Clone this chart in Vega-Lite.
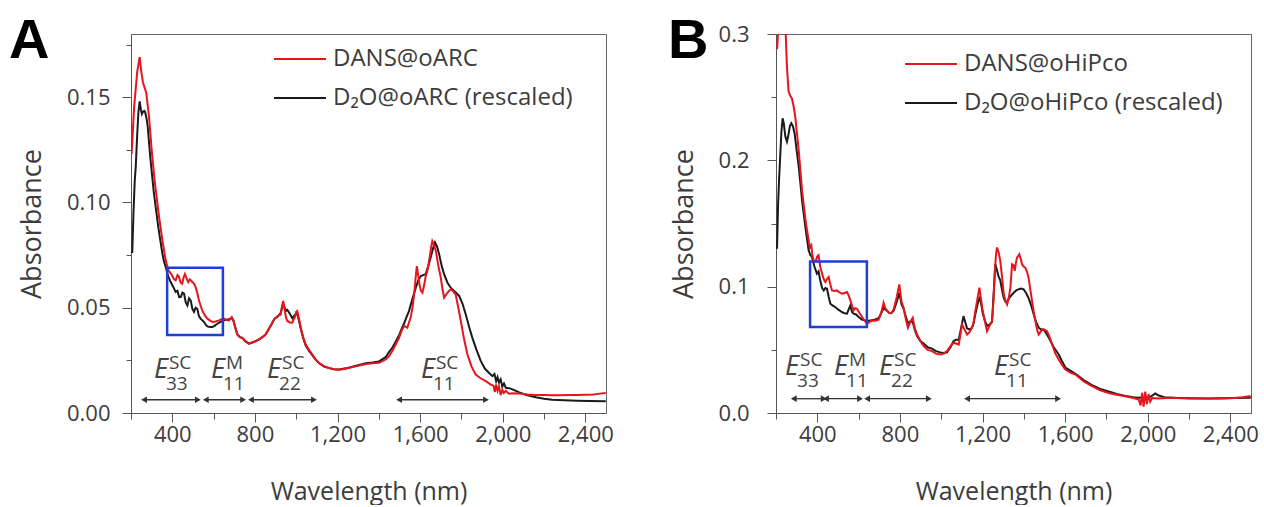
{
  "$schema": "https://vega.github.io/schema/vega-lite/v6.json",
  "background": "white",
  "padding": {"left": 8, "top": 12, "right": 0, "bottom": 0},
  "spacing": 53,
  "config": {
    "font": "Open Sans",
    "view": {"stroke": "#666", "strokeWidth": 1},
    "axis": {
      "grid": false, "domainColor": "#555", "tickColor": "#555", "labelColor": "#3c3c3c", "titleColor": "#3c3c3c",
      "labelFontSize": 22, "titleFontSize": 27, "titleFontWeight": "normal", "labelFont": "Open Sans", "titleFont": "Open Sans"
    },
    "axisX": {"titleFontSize": 25},
    "legend": {"labelFontSize": 24, "labelColor": "#3c3c3c", "labelFont": "Open Sans", "labelLimit": 0, "symbolType": "M-1,0H1", "symbolSize": 2700, "symbolStrokeWidth": 2, "labelOffset": 6, "rowPadding": -10, "title": null}
  },
  "datasets": {
    "a_red": [
      {"wavelength":203,"absorbance":0.123},{"wavelength":215,"absorbance":0.145},{"wavelength":230,"absorbance":0.162},{"wavelength":242,"absorbance":0.169},{"wavelength":250,"absorbance":0.162},{"wavelength":258,"absorbance":0.157},{"wavelength":274,"absorbance":0.152},{"wavelength":287,"absorbance":0.141},{"wavelength":300,"absorbance":0.125},{"wavelength":316,"absorbance":0.109},{"wavelength":336,"absorbance":0.093},{"wavelength":352,"absorbance":0.082},{"wavelength":368,"absorbance":0.0725},{"wavelength":381,"absorbance":0.0678},{"wavelength":395,"absorbance":0.066},{"wavelength":408,"absorbance":0.0635},{"wavelength":416,"absorbance":0.063},{"wavelength":425,"absorbance":0.0655},{"wavelength":432,"absorbance":0.0648},{"wavelength":440,"absorbance":0.062},{"wavelength":448,"absorbance":0.0614},{"wavelength":455,"absorbance":0.0645},{"wavelength":461,"absorbance":0.066},{"wavelength":469,"absorbance":0.064},{"wavelength":477,"absorbance":0.0622},{"wavelength":485,"absorbance":0.0635},{"wavelength":497,"absorbance":0.0622},{"wavelength":505,"absorbance":0.0615},{"wavelength":513,"absorbance":0.0598},{"wavelength":521,"absorbance":0.057},{"wavelength":529,"absorbance":0.0535},{"wavelength":537,"absorbance":0.051},{"wavelength":545,"absorbance":0.0487},{"wavelength":557,"absorbance":0.0465},{"wavelength":570,"absorbance":0.0448},{"wavelength":582,"absorbance":0.044},{"wavelength":594,"absorbance":0.0432},{"wavelength":610,"absorbance":0.0435},{"wavelength":626,"absorbance":0.044},{"wavelength":638,"absorbance":0.0445},{"wavelength":650,"absorbance":0.0448},{"wavelength":662,"absorbance":0.0442},{"wavelength":675,"absorbance":0.044},{"wavelength":688,"absorbance":0.0456},{"wavelength":696,"absorbance":0.044},{"wavelength":704,"absorbance":0.041},{"wavelength":715,"absorbance":0.0373},{"wavelength":727,"absorbance":0.036},{"wavelength":739,"absorbance":0.0357},{"wavelength":755,"absorbance":0.034},{"wavelength":771,"absorbance":0.0329},{"wavelength":787,"absorbance":0.0335},{"wavelength":804,"absorbance":0.0341},{"wavelength":820,"absorbance":0.035},{"wavelength":836,"absorbance":0.036},{"wavelength":852,"absorbance":0.0373},{"wavelength":865,"absorbance":0.0395},{"wavelength":880,"absorbance":0.042},{"wavelength":893,"absorbance":0.0445},{"wavelength":901,"absorbance":0.0452},{"wavelength":912,"absorbance":0.0462},{"wavelength":925,"absorbance":0.0468},{"wavelength":932,"absorbance":0.051},{"wavelength":937,"absorbance":0.0532},{"wavelength":944,"absorbance":0.049},{"wavelength":950,"absorbance":0.0455},{"wavelength":957,"absorbance":0.0437},{"wavelength":970,"absorbance":0.043},{"wavelength":981,"absorbance":0.0429},{"wavelength":993,"absorbance":0.0455},{"wavelength":1000,"absorbance":0.048},{"wavelength":1005,"absorbance":0.0484},{"wavelength":1013,"absorbance":0.045},{"wavelength":1022,"absorbance":0.0405},{"wavelength":1034,"absorbance":0.036},{"wavelength":1046,"absorbance":0.0325},{"wavelength":1062,"absorbance":0.03},{"wavelength":1078,"absorbance":0.0278},{"wavelength":1094,"absorbance":0.0255},{"wavelength":1110,"absorbance":0.0238},{"wavelength":1135,"absorbance":0.0222},{"wavelength":1159,"absorbance":0.0214},{"wavelength":1183,"absorbance":0.0208},{"wavelength":1207,"absorbance":0.0206},{"wavelength":1240,"absorbance":0.021},{"wavelength":1272,"absorbance":0.0218},{"wavelength":1305,"absorbance":0.0225},{"wavelength":1337,"absorbance":0.0233},{"wavelength":1370,"absorbance":0.0236},{"wavelength":1401,"absorbance":0.0238},{"wavelength":1433,"absorbance":0.0254},{"wavelength":1450,"absorbance":0.027},{"wavelength":1465,"absorbance":0.0294},{"wavelength":1482,"absorbance":0.0325},{"wavelength":1498,"absorbance":0.0357},{"wavelength":1510,"absorbance":0.039},{"wavelength":1522,"absorbance":0.0413},{"wavelength":1530,"absorbance":0.041},{"wavelength":1538,"absorbance":0.0405},{"wavelength":1546,"absorbance":0.043},{"wavelength":1554,"absorbance":0.0452},{"wavelength":1563,"absorbance":0.05},{"wavelength":1571,"absorbance":0.0563},{"wavelength":1578,"absorbance":0.064},{"wavelength":1584,"absorbance":0.0698},{"wavelength":1591,"absorbance":0.065},{"wavelength":1598,"absorbance":0.0603},{"wavelength":1604,"absorbance":0.058},{"wavelength":1611,"absorbance":0.0571},{"wavelength":1620,"absorbance":0.061},{"wavelength":1627,"absorbance":0.065},{"wavelength":1635,"absorbance":0.0675},{"wavelength":1645,"absorbance":0.073},{"wavelength":1652,"absorbance":0.078},{"wavelength":1659,"absorbance":0.0817},{"wavelength":1667,"absorbance":0.08},{"wavelength":1676,"absorbance":0.077},{"wavelength":1688,"absorbance":0.07},{"wavelength":1700,"absorbance":0.0643},{"wavelength":1708,"absorbance":0.059},{"wavelength":1716,"absorbance":0.0548},{"wavelength":1724,"absorbance":0.056},{"wavelength":1732,"absorbance":0.0571},{"wavelength":1740,"absorbance":0.058},{"wavelength":1748,"absorbance":0.0587},{"wavelength":1760,"absorbance":0.0578},{"wavelength":1772,"absorbance":0.0563},{"wavelength":1785,"absorbance":0.05},{"wavelength":1797,"absorbance":0.0437},{"wavelength":1813,"absorbance":0.035},{"wavelength":1829,"absorbance":0.0278},{"wavelength":1849,"absorbance":0.022},{"wavelength":1869,"absorbance":0.0183},{"wavelength":1893,"absorbance":0.0165},{"wavelength":1918,"absorbance":0.0151},{"wavelength":1942,"absorbance":0.0135},{"wavelength":1955,"absorbance":0.013},{"wavelength":1962,"absorbance":0.01},{"wavelength":1968,"absorbance":0.0135},{"wavelength":1975,"absorbance":0.0105},{"wavelength":1982,"absorbance":0.0125},{"wavelength":1990,"absorbance":0.0085},{"wavelength":1998,"absorbance":0.011},{"wavelength":2005,"absorbance":0.0095},{"wavelength":2015,"absorbance":0.0105},{"wavelength":2030,"absorbance":0.0092},{"wavelength":2050,"absorbance":0.0094},{"wavelength":2079,"absorbance":0.0093},{"wavelength":2120,"absorbance":0.0088},{"wavelength":2160,"absorbance":0.0086},{"wavelength":2200,"absorbance":0.0085},{"wavelength":2240,"absorbance":0.0084},{"wavelength":2280,"absorbance":0.0084},{"wavelength":2320,"absorbance":0.0085},{"wavelength":2360,"absorbance":0.0086},{"wavelength":2402,"absorbance":0.0087},{"wavelength":2440,"absorbance":0.0088},{"wavelength":2470,"absorbance":0.0092},{"wavelength":2499,"absorbance":0.0095}
    ],
    "a_black": [
      {"wavelength":206,"absorbance":0.076},{"wavelength":212,"absorbance":0.095},{"wavelength":218,"absorbance":0.11},{"wavelength":223,"absorbance":0.117},{"wavelength":230,"absorbance":0.132},{"wavelength":236,"absorbance":0.143},{"wavelength":242,"absorbance":0.148},{"wavelength":248,"absorbance":0.144},{"wavelength":253,"absorbance":0.142},{"wavelength":258,"absorbance":0.143},{"wavelength":264,"absorbance":0.1435},{"wavelength":268,"absorbance":0.1432},{"wavelength":275,"absorbance":0.14},{"wavelength":281,"absorbance":0.136},{"wavelength":287,"absorbance":0.129},{"wavelength":293,"absorbance":0.1218},{"wavelength":302,"absorbance":0.113},{"wavelength":311,"absorbance":0.1043},{"wavelength":322,"absorbance":0.096},{"wavelength":332,"absorbance":0.0884},{"wavelength":342,"absorbance":0.082},{"wavelength":352,"absorbance":0.0757},{"wavelength":360,"absorbance":0.072},{"wavelength":368,"absorbance":0.0694},{"wavelength":380,"absorbance":0.065},{"wavelength":392,"absorbance":0.0622},{"wavelength":404,"absorbance":0.06},{"wavelength":416,"absorbance":0.0575},{"wavelength":425,"absorbance":0.058},{"wavelength":433,"absorbance":0.055},{"wavelength":441,"absorbance":0.0551},{"wavelength":449,"absorbance":0.0572},{"wavelength":457,"absorbance":0.0567},{"wavelength":465,"absorbance":0.0525},{"wavelength":473,"absorbance":0.0511},{"wavelength":481,"absorbance":0.0545},{"wavelength":489,"absorbance":0.0535},{"wavelength":497,"absorbance":0.0495},{"wavelength":505,"absorbance":0.048},{"wavelength":513,"absorbance":0.05},{"wavelength":521,"absorbance":0.0495},{"wavelength":529,"absorbance":0.046},{"wavelength":537,"absorbance":0.0448},{"wavelength":545,"absorbance":0.044},{"wavelength":554,"absorbance":0.0432},{"wavelength":562,"absorbance":0.042},{"wavelength":570,"absorbance":0.0411},{"wavelength":582,"absorbance":0.0408},{"wavelength":594,"absorbance":0.0408},{"wavelength":606,"absorbance":0.0415},{"wavelength":618,"absorbance":0.0424},{"wavelength":634,"absorbance":0.0433},{"wavelength":650,"absorbance":0.044},{"wavelength":662,"absorbance":0.0443},{"wavelength":675,"absorbance":0.0445},{"wavelength":688,"absorbance":0.0452},{"wavelength":696,"absorbance":0.0438},{"wavelength":704,"absorbance":0.041},{"wavelength":715,"absorbance":0.0373},{"wavelength":727,"absorbance":0.036},{"wavelength":739,"absorbance":0.0357},{"wavelength":755,"absorbance":0.034},{"wavelength":771,"absorbance":0.0329},{"wavelength":787,"absorbance":0.0335},{"wavelength":804,"absorbance":0.0341},{"wavelength":820,"absorbance":0.035},{"wavelength":836,"absorbance":0.036},{"wavelength":852,"absorbance":0.0373},{"wavelength":865,"absorbance":0.0395},{"wavelength":880,"absorbance":0.042},{"wavelength":893,"absorbance":0.0445},{"wavelength":901,"absorbance":0.0452},{"wavelength":912,"absorbance":0.046},{"wavelength":925,"absorbance":0.0475},{"wavelength":932,"absorbance":0.0505},{"wavelength":937,"absorbance":0.052},{"wavelength":944,"absorbance":0.05},{"wavelength":950,"absorbance":0.0485},{"wavelength":957,"absorbance":0.049},{"wavelength":970,"absorbance":0.047},{"wavelength":981,"absorbance":0.045},{"wavelength":993,"absorbance":0.0465},{"wavelength":1000,"absorbance":0.047},{"wavelength":1005,"absorbance":0.047},{"wavelength":1013,"absorbance":0.044},{"wavelength":1022,"absorbance":0.04},{"wavelength":1034,"absorbance":0.0355},{"wavelength":1046,"absorbance":0.032},{"wavelength":1062,"absorbance":0.0295},{"wavelength":1078,"absorbance":0.0275},{"wavelength":1094,"absorbance":0.0253},{"wavelength":1110,"absorbance":0.0237},{"wavelength":1135,"absorbance":0.022},{"wavelength":1159,"absorbance":0.0213},{"wavelength":1183,"absorbance":0.0208},{"wavelength":1207,"absorbance":0.0207},{"wavelength":1240,"absorbance":0.0212},{"wavelength":1272,"absorbance":0.022},{"wavelength":1305,"absorbance":0.0228},{"wavelength":1337,"absorbance":0.0236},{"wavelength":1370,"absorbance":0.024},{"wavelength":1401,"absorbance":0.0245},{"wavelength":1433,"absorbance":0.0265},{"wavelength":1450,"absorbance":0.029},{"wavelength":1465,"absorbance":0.031},{"wavelength":1482,"absorbance":0.034},{"wavelength":1498,"absorbance":0.037},{"wavelength":1510,"absorbance":0.0398},{"wavelength":1522,"absorbance":0.0425},{"wavelength":1534,"absorbance":0.0455},{"wavelength":1546,"absorbance":0.0484},{"wavelength":1562,"absorbance":0.054},{"wavelength":1579,"absorbance":0.0595},{"wavelength":1591,"absorbance":0.063},{"wavelength":1603,"absorbance":0.065},{"wavelength":1615,"absorbance":0.0655},{"wavelength":1627,"absorbance":0.0659},{"wavelength":1640,"absorbance":0.07},{"wavelength":1651,"absorbance":0.0738},{"wavelength":1662,"absorbance":0.078},{"wavelength":1672,"absorbance":0.081},{"wavelength":1682,"absorbance":0.079},{"wavelength":1692,"absorbance":0.0754},{"wavelength":1704,"absorbance":0.07},{"wavelength":1716,"absorbance":0.0659},{"wavelength":1732,"absorbance":0.062},{"wavelength":1748,"absorbance":0.0595},{"wavelength":1770,"absorbance":0.0575},{"wavelength":1789,"absorbance":0.0556},{"wavelength":1805,"absorbance":0.052},{"wavelength":1821,"absorbance":0.0468},{"wavelength":1837,"absorbance":0.041},{"wavelength":1853,"absorbance":0.0357},{"wavelength":1873,"absorbance":0.03},{"wavelength":1894,"absorbance":0.0246},{"wavelength":1914,"absorbance":0.021},{"wavelength":1934,"absorbance":0.019},{"wavelength":1950,"absorbance":0.0175},{"wavelength":1960,"absorbance":0.0185},{"wavelength":1968,"absorbance":0.015},{"wavelength":1975,"absorbance":0.017},{"wavelength":1982,"absorbance":0.0145},{"wavelength":1990,"absorbance":0.016},{"wavelength":1998,"absorbance":0.0125},{"wavelength":2006,"absorbance":0.014},{"wavelength":2015,"absorbance":0.012},{"wavelength":2030,"absorbance":0.0118},{"wavelength":2047,"absorbance":0.0112},{"wavelength":2080,"absorbance":0.0098},{"wavelength":2111,"absorbance":0.0087},{"wavelength":2160,"absorbance":0.0075},{"wavelength":2200,"absorbance":0.0068},{"wavelength":2240,"absorbance":0.0063},{"wavelength":2300,"absorbance":0.006},{"wavelength":2360,"absorbance":0.0058},{"wavelength":2420,"absorbance":0.0057},{"wavelength":2499,"absorbance":0.0056}
    ],
    "b_red": [
      {"wavelength":205,"absorbance":0.288},{"wavelength":208,"absorbance":0.295},{"wavelength":213,"absorbance":0.32},{"wavelength":230,"absorbance":0.34},{"wavelength":242,"absorbance":0.32},{"wavelength":247,"absorbance":0.3},{"wavelength":253,"absorbance":0.274},{"wavelength":261,"absorbance":0.2545},{"wavelength":269,"absorbance":0.251},{"wavelength":277,"absorbance":0.249},{"wavelength":285,"absorbance":0.243},{"wavelength":293,"absorbance":0.2347},{"wavelength":301,"absorbance":0.222},{"wavelength":310,"absorbance":0.208},{"wavelength":318,"absorbance":0.192},{"wavelength":326,"absorbance":0.1764},{"wavelength":334,"absorbance":0.165},{"wavelength":342,"absorbance":0.154},{"wavelength":350,"absorbance":0.145},{"wavelength":358,"absorbance":0.1368},{"wavelength":364,"absorbance":0.131},{"wavelength":371,"absorbance":0.1328},{"wavelength":376,"absorbance":0.125},{"wavelength":382,"absorbance":0.1209},{"wavelength":392,"absorbance":0.12},{"wavelength":400,"absorbance":0.124},{"wavelength":406,"absorbance":0.1249},{"wavelength":414,"absorbance":0.116},{"wavelength":423,"absorbance":0.1103},{"wavelength":431,"absorbance":0.106},{"wavelength":439,"absorbance":0.1037},{"wavelength":447,"absorbance":0.106},{"wavelength":455,"absorbance":0.1077},{"wavelength":463,"absorbance":0.102},{"wavelength":471,"absorbance":0.097},{"wavelength":483,"absorbance":0.0965},{"wavelength":495,"absorbance":0.097},{"wavelength":507,"absorbance":0.0955},{"wavelength":520,"absorbance":0.0944},{"wavelength":532,"absorbance":0.095},{"wavelength":544,"absorbance":0.0958},{"wavelength":552,"absorbance":0.093},{"wavelength":560,"absorbance":0.0891},{"wavelength":568,"absorbance":0.085},{"wavelength":576,"absorbance":0.0812},{"wavelength":584,"absorbance":0.083},{"wavelength":592,"absorbance":0.0825},{"wavelength":605,"absorbance":0.079},{"wavelength":617,"absorbance":0.076},{"wavelength":629,"absorbance":0.073},{"wavelength":641,"absorbance":0.0706},{"wavelength":653,"absorbance":0.072},{"wavelength":665,"absorbance":0.0733},{"wavelength":681,"absorbance":0.073},{"wavelength":697,"absorbance":0.0738},{"wavelength":709,"absorbance":0.079},{"wavelength":721,"absorbance":0.0873},{"wavelength":729,"absorbance":0.083},{"wavelength":737,"absorbance":0.0812},{"wavelength":746,"absorbance":0.0794},{"wavelength":758,"absorbance":0.079},{"wavelength":770,"absorbance":0.082},{"wavelength":785,"absorbance":0.092},{"wavelength":797,"absorbance":0.1018},{"wavelength":808,"absorbance":0.088},{"wavelength":818,"absorbance":0.0833},{"wavelength":829,"absorbance":0.074},{"wavelength":839,"absorbance":0.0675},{"wavelength":850,"absorbance":0.072},{"wavelength":862,"absorbance":0.0754},{"wavelength":872,"absorbance":0.067},{"wavelength":883,"absorbance":0.0621},{"wavelength":899,"absorbance":0.057},{"wavelength":915,"absorbance":0.0529},{"wavelength":935,"absorbance":0.05},{"wavelength":955,"absorbance":0.049},{"wavelength":975,"absorbance":0.047},{"wavelength":996,"absorbance":0.0463},{"wavelength":1012,"absorbance":0.047},{"wavelength":1028,"absorbance":0.049},{"wavelength":1045,"absorbance":0.053},{"wavelength":1060,"absorbance":0.0556},{"wavelength":1072,"absorbance":0.055},{"wavelength":1085,"absorbance":0.0542},{"wavelength":1093,"absorbance":0.062},{"wavelength":1101,"absorbance":0.0701},{"wavelength":1113,"absorbance":0.066},{"wavelength":1125,"absorbance":0.0621},{"wavelength":1137,"absorbance":0.064},{"wavelength":1149,"absorbance":0.0675},{"wavelength":1157,"absorbance":0.072},{"wavelength":1165,"absorbance":0.0807},{"wavelength":1175,"absorbance":0.09},{"wavelength":1185,"absorbance":0.0992},{"wavelength":1193,"absorbance":0.09},{"wavelength":1201,"absorbance":0.0807},{"wavelength":1212,"absorbance":0.072},{"wavelength":1222,"absorbance":0.0648},{"wavelength":1234,"absorbance":0.069},{"wavelength":1246,"absorbance":0.0728},{"wavelength":1253,"absorbance":0.088},{"wavelength":1259,"absorbance":0.1098},{"wavelength":1265,"absorbance":0.125},{"wavelength":1270,"absorbance":0.131},{"wavelength":1278,"absorbance":0.127},{"wavelength":1286,"absorbance":0.1204},{"wavelength":1295,"absorbance":0.107},{"wavelength":1303,"absorbance":0.0939},{"wavelength":1311,"absorbance":0.089},{"wavelength":1319,"absorbance":0.086},{"wavelength":1327,"absorbance":0.091},{"wavelength":1335,"absorbance":0.0992},{"wavelength":1343,"absorbance":0.1177},{"wavelength":1350,"absorbance":0.117},{"wavelength":1356,"absorbance":0.1125},{"wavelength":1362,"absorbance":0.119},{"wavelength":1367,"absorbance":0.123},{"wavelength":1378,"absorbance":0.1256},{"wavelength":1385,"absorbance":0.122},{"wavelength":1391,"absorbance":0.1177},{"wavelength":1399,"absorbance":0.116},{"wavelength":1407,"absorbance":0.1151},{"wavelength":1415,"absorbance":0.112},{"wavelength":1423,"absorbance":0.1071},{"wavelength":1431,"absorbance":0.098},{"wavelength":1440,"absorbance":0.0886},{"wavelength":1448,"absorbance":0.08},{"wavelength":1456,"absorbance":0.0728},{"wavelength":1464,"absorbance":0.066},{"wavelength":1472,"absorbance":0.0621},{"wavelength":1480,"absorbance":0.064},{"wavelength":1488,"absorbance":0.0661},{"wavelength":1500,"absorbance":0.066},{"wavelength":1512,"absorbance":0.0648},{"wavelength":1525,"absorbance":0.06},{"wavelength":1537,"absorbance":0.0542},{"wavelength":1553,"absorbance":0.047},{"wavelength":1569,"absorbance":0.0423},{"wavelength":1585,"absorbance":0.038},{"wavelength":1601,"absorbance":0.0344},{"wavelength":1625,"absorbance":0.032},{"wavelength":1650,"absorbance":0.0304},{"wavelength":1690,"absorbance":0.025},{"wavelength":1730,"absorbance":0.0212},{"wavelength":1770,"absorbance":0.018},{"wavelength":1811,"absorbance":0.0159},{"wavelength":1850,"absorbance":0.0145},{"wavelength":1892,"absorbance":0.0132},{"wavelength":1930,"absorbance":0.0118},{"wavelength":1957,"absorbance":0.0106},{"wavelength":1965,"absorbance":0.006},{"wavelength":1973,"absorbance":0.016},{"wavelength":1980,"absorbance":0.005},{"wavelength":1988,"absorbance":0.017},{"wavelength":1996,"absorbance":0.007},{"wavelength":2004,"absorbance":0.015},{"wavelength":2012,"absorbance":0.009},{"wavelength":2021,"absorbance":0.0119},{"wavelength":2050,"absorbance":0.0115},{"wavelength":2090,"absorbance":0.0118},{"wavelength":2134,"absorbance":0.0119},{"wavelength":2200,"absorbance":0.0115},{"wavelength":2296,"absorbance":0.0114},{"wavelength":2360,"absorbance":0.0115},{"wavelength":2420,"absorbance":0.0118},{"wavelength":2460,"absorbance":0.0125},{"wavelength":2489,"absorbance":0.0132},{"wavelength":2499,"absorbance":0.013}
    ],
    "b_black": [
      {"wavelength":205,"absorbance":0.13},{"wavelength":210,"absorbance":0.165},{"wavelength":215,"absorbance":0.185},{"wavelength":221,"absorbance":0.205},{"wavelength":226,"absorbance":0.222},{"wavelength":232,"absorbance":0.2333},{"wavelength":238,"absorbance":0.229},{"wavelength":245,"absorbance":0.219},{"wavelength":253,"absorbance":0.2148},{"wavelength":260,"absorbance":0.22},{"wavelength":267,"absorbance":0.227},{"wavelength":274,"absorbance":0.2294},{"wavelength":282,"absorbance":0.227},{"wavelength":290,"absorbance":0.2214},{"wavelength":300,"absorbance":0.208},{"wavelength":310,"absorbance":0.195},{"wavelength":318,"absorbance":0.182},{"wavelength":326,"absorbance":0.1685},{"wavelength":334,"absorbance":0.158},{"wavelength":342,"absorbance":0.1474},{"wavelength":350,"absorbance":0.138},{"wavelength":358,"absorbance":0.1288},{"wavelength":366,"absorbance":0.125},{"wavelength":374,"absorbance":0.1236},{"wavelength":386,"absorbance":0.116},{"wavelength":398,"absorbance":0.1103},{"wavelength":406,"absorbance":0.112},{"wavelength":414,"absorbance":0.105},{"wavelength":423,"absorbance":0.099},{"wavelength":431,"absorbance":0.097},{"wavelength":439,"absorbance":0.099},{"wavelength":447,"absorbance":0.0984},{"wavelength":455,"absorbance":0.092},{"wavelength":463,"absorbance":0.0865},{"wavelength":475,"absorbance":0.085},{"wavelength":487,"absorbance":0.0839},{"wavelength":500,"absorbance":0.082},{"wavelength":520,"absorbance":0.0799},{"wavelength":532,"absorbance":0.079},{"wavelength":544,"absorbance":0.0786},{"wavelength":552,"absorbance":0.082},{"wavelength":560,"absorbance":0.0852},{"wavelength":568,"absorbance":0.08},{"wavelength":576,"absorbance":0.0786},{"wavelength":588,"absorbance":0.078},{"wavelength":600,"absorbance":0.076},{"wavelength":616,"absorbance":0.074},{"wavelength":632,"absorbance":0.0733},{"wavelength":648,"absorbance":0.073},{"wavelength":665,"absorbance":0.0735},{"wavelength":681,"absorbance":0.074},{"wavelength":697,"absorbance":0.075},{"wavelength":709,"absorbance":0.079},{"wavelength":721,"absorbance":0.083},{"wavelength":729,"absorbance":0.082},{"wavelength":737,"absorbance":0.081},{"wavelength":746,"absorbance":0.0794},{"wavelength":758,"absorbance":0.079},{"wavelength":770,"absorbance":0.081},{"wavelength":785,"absorbance":0.088},{"wavelength":797,"absorbance":0.0952},{"wavelength":808,"absorbance":0.086},{"wavelength":818,"absorbance":0.0825},{"wavelength":829,"absorbance":0.076},{"wavelength":839,"absorbance":0.071},{"wavelength":850,"absorbance":0.0725},{"wavelength":862,"absorbance":0.072},{"wavelength":872,"absorbance":0.066},{"wavelength":883,"absorbance":0.061},{"wavelength":899,"absorbance":0.057},{"wavelength":915,"absorbance":0.055},{"wavelength":935,"absorbance":0.052},{"wavelength":955,"absorbance":0.051},{"wavelength":975,"absorbance":0.049},{"wavelength":996,"absorbance":0.048},{"wavelength":1012,"absorbance":0.0475},{"wavelength":1028,"absorbance":0.048},{"wavelength":1045,"absorbance":0.052},{"wavelength":1060,"absorbance":0.057},{"wavelength":1072,"absorbance":0.058},{"wavelength":1085,"absorbance":0.058},{"wavelength":1097,"absorbance":0.068},{"wavelength":1108,"absorbance":0.0767},{"wavelength":1116,"absorbance":0.072},{"wavelength":1125,"absorbance":0.067},{"wavelength":1137,"absorbance":0.066},{"wavelength":1149,"absorbance":0.0675},{"wavelength":1157,"absorbance":0.071},{"wavelength":1165,"absorbance":0.078},{"wavelength":1176,"absorbance":0.086},{"wavelength":1187,"absorbance":0.092},{"wavelength":1194,"absorbance":0.086},{"wavelength":1201,"absorbance":0.079},{"wavelength":1212,"absorbance":0.073},{"wavelength":1222,"absorbance":0.069},{"wavelength":1234,"absorbance":0.07},{"wavelength":1246,"absorbance":0.072},{"wavelength":1254,"absorbance":0.095},{"wavelength":1262,"absorbance":0.1177},{"wavelength":1270,"absorbance":0.113},{"wavelength":1278,"absorbance":0.108},{"wavelength":1286,"absorbance":0.105},{"wavelength":1295,"absorbance":0.097},{"wavelength":1303,"absorbance":0.091},{"wavelength":1311,"absorbance":0.088},{"wavelength":1319,"absorbance":0.088},{"wavelength":1327,"absorbance":0.0905},{"wavelength":1339,"absorbance":0.093},{"wavelength":1351,"absorbance":0.0952},{"wavelength":1363,"absorbance":0.097},{"wavelength":1376,"absorbance":0.098},{"wavelength":1387,"absorbance":0.0985},{"wavelength":1399,"absorbance":0.0979},{"wavelength":1411,"absorbance":0.095},{"wavelength":1423,"absorbance":0.091},{"wavelength":1436,"absorbance":0.085},{"wavelength":1448,"absorbance":0.078},{"wavelength":1460,"absorbance":0.072},{"wavelength":1472,"absorbance":0.0675},{"wavelength":1484,"absorbance":0.066},{"wavelength":1496,"absorbance":0.0661},{"wavelength":1509,"absorbance":0.063},{"wavelength":1521,"absorbance":0.0595},{"wavelength":1545,"absorbance":0.052},{"wavelength":1569,"absorbance":0.0463},{"wavelength":1585,"absorbance":0.041},{"wavelength":1601,"absorbance":0.036},{"wavelength":1625,"absorbance":0.0335},{"wavelength":1650,"absorbance":0.031},{"wavelength":1690,"absorbance":0.026},{"wavelength":1730,"absorbance":0.022},{"wavelength":1770,"absorbance":0.019},{"wavelength":1811,"absorbance":0.017},{"wavelength":1850,"absorbance":0.015},{"wavelength":1892,"absorbance":0.0135},{"wavelength":1930,"absorbance":0.0125},{"wavelength":1957,"absorbance":0.012},{"wavelength":1990,"absorbance":0.0125},{"wavelength":2015,"absorbance":0.013},{"wavelength":2037,"absorbance":0.0155},{"wavelength":2050,"absorbance":0.014},{"wavelength":2080,"absorbance":0.0125},{"wavelength":2134,"absorbance":0.012},{"wavelength":2200,"absorbance":0.0117},{"wavelength":2296,"absorbance":0.0115},{"wavelength":2360,"absorbance":0.0116},{"wavelength":2420,"absorbance":0.0118},{"wavelength":2489,"absorbance":0.012},{"wavelength":2499,"absorbance":0.012}
    ],
    "a_box": [{"left": 375, "right": 645, "bottom": 0.037, "top": 0.069}],
    "b_box": [{"left": 365, "right": 640, "bottom": 0.068, "top": 0.12}],
    "a_arrows": [
      {"start": 263, "end": 524, "level": 0.0063},
      {"start": 562, "end": 743, "level": 0.0063},
      {"start": 781, "end": 1086, "level": 0.0063},
      {"start": 1498, "end": 1919, "level": 0.0063}
    ],
    "b_arrows": [
      {"start": 286, "end": 431, "level": 0.0113},
      {"start": 442, "end": 607, "level": 0.0113},
      {"start": 641, "end": 940, "level": 0.0113},
      {"start": 1125, "end": 1566, "level": 0.0113}
    ],
    "a_labels": [
      {"position": 311, "level": 0.0167, "main": "E", "sup": "SC", "sub": "33"},
      {"position": 587, "level": 0.0167, "main": "E", "sup": "M", "sub": "11"},
      {"position": 859, "level": 0.0167, "main": "E", "sup": "SC", "sub": "22"},
      {"position": 1604, "level": 0.0167, "main": "E", "sup": "SC", "sub": "11"}
    ],
    "b_labels": [
      {"position": 244, "level": 0.0302, "main": "E", "sup": "SC", "sub": "33"},
      {"position": 481, "level": 0.0302, "main": "E", "sup": "M", "sub": "11"},
      {"position": 699, "level": 0.0302, "main": "E", "sup": "SC", "sub": "22"},
      {"position": 1256, "level": 0.0302, "main": "E", "sup": "SC", "sub": "11"}
    ]
  },
  "resolve": {"scale": {"x": "independent", "y": "independent", "color": "independent"}, "legend": {"color": "independent"}},
  "hconcat": [
    {
      "width": 475, "height": 379,
      "title": {"text": "A", "anchor": "start", "frame": "group", "fontSize": 56, "fontWeight": "bold", "font": "Liberation Sans", "color": "black", "dx": -122, "dy": 38, "offset": 0},
      "layer": [
        {"data": {"name": "a_black"}, "mark": {"type": "line", "strokeWidth": 2, "clip": true},
         "encoding": {
           "x": {"field": "wavelength", "type": "quantitative", "title": "Wavelength (nm)", "scale": {"domain": [200, 2500], "nice": false, "zero": false},
             "axis": {"values": [200,400,600,800,1000,1200,1400,1600,1800,2000,2200,2400], "labelExpr": "datum.value % 400 == 0 ? format(datum.value, ',') : ''", "tickSize": {"condition": {"test": "datum.value % 400 == 0", "value": 9}, "value": 6}, "labelPadding": 2, "titlePadding": 34}},
           "y": {"field": "absorbance", "type": "quantitative", "title": "Absorbance", "scale": {"domain": [0, 0.18], "nice": false},
             "axis": {"values": [0,0.025,0.05,0.075,0.1,0.125,0.15,0.175], "labelExpr": "round(datum.value*1000) % 50 == 0 ? format(datum.value, '.2f') : ''", "tickSize": {"condition": {"test": "round(datum.value*1000) % 50 == 0", "value": 9}, "value": 5}, "labelPadding": 12, "titlePadding": 20}},
           "color": {"datum": "D₂O@oARC (rescaled)", "type": "nominal", "scale": {"domain": ["DANS@oARC", "D₂O@oARC (rescaled)"], "range": ["#e8141c", "#1a1a1a"]},
             "legend": {"orient": "none", "legendX": 142, "legendY": -2}}
         }},
        {"data": {"name": "a_red"}, "mark": {"type": "line", "strokeWidth": 2, "clip": true},
         "encoding": {"x": {"field": "wavelength", "type": "quantitative"}, "y": {"field": "absorbance", "type": "quantitative"}, "color": {"datum": "DANS@oARC", "type": "nominal"}}},
        {"data": {"name": "a_box"}, "mark": {"type": "rect", "filled": false, "stroke": "#1d3fd6", "strokeWidth": 2.5},
         "encoding": {"x": {"field": "left", "type": "quantitative"}, "x2": {"field": "right"}, "y": {"field": "bottom", "type": "quantitative"}, "y2": {"field": "top"}}},
        {"data": {"name": "a_arrows"}, "mark": {"type": "rule", "color": "#333", "strokeWidth": 1.3},
         "encoding": {"x": {"field": "start", "type": "quantitative"}, "x2": {"field": "end"}, "y": {"field": "level", "type": "quantitative"}}},
        {"data": {"name": "a_arrows"}, "mark": {"type": "point", "shape": "triangle-left", "filled": true, "size": 45, "color": "#333", "opacity": 1},
         "encoding": {"x": {"field": "start", "type": "quantitative"}, "y": {"field": "level", "type": "quantitative"}}},
        {"data": {"name": "a_arrows"}, "mark": {"type": "point", "shape": "triangle-right", "filled": true, "size": 45, "color": "#333", "opacity": 1},
         "encoding": {"x": {"field": "end", "type": "quantitative"}, "y": {"field": "level", "type": "quantitative"}}},
        {"data": {"name": "a_labels"}, "mark": {"type": "text", "fontStyle": "italic", "fontSize": 27, "align": "left", "baseline": "alphabetic", "color": "#444", "font": "Open Sans"},
         "encoding": {"x": {"field": "position", "type": "quantitative"}, "y": {"field": "level", "type": "quantitative"}, "text": {"field": "main"}}},
        {"data": {"name": "a_labels"}, "mark": {"type": "text", "fontSize": 19, "align": "left", "baseline": "alphabetic", "color": "#444", "dx": 15, "dy": -9, "font": "Open Sans"},
         "encoding": {"x": {"field": "position", "type": "quantitative"}, "y": {"field": "level", "type": "quantitative"}, "text": {"field": "sup"}}},
        {"data": {"name": "a_labels"}, "mark": {"type": "text", "fontSize": 19, "align": "left", "baseline": "alphabetic", "color": "#444", "dx": 12, "dy": 12, "font": "Open Sans"},
         "encoding": {"x": {"field": "position", "type": "quantitative"}, "y": {"field": "level", "type": "quantitative"}, "text": {"field": "sub"}}}
      ]
    },
    {
      "width": 475, "height": 379,
      "title": {"text": "B", "anchor": "start", "frame": "group", "fontSize": 56, "fontWeight": "bold", "font": "Liberation Sans", "color": "black", "dx": -108, "dy": 47, "offset": 0},
      "layer": [
        {"data": {"name": "b_black"}, "mark": {"type": "line", "strokeWidth": 2, "clip": true},
         "encoding": {
           "x": {"field": "wavelength", "type": "quantitative", "title": "Wavelength (nm)", "scale": {"domain": [200, 2500], "nice": false, "zero": false},
             "axis": {"values": [200,400,600,800,1000,1200,1400,1600,1800,2000,2200,2400], "labelExpr": "datum.value % 400 == 0 ? format(datum.value, ',') : ''", "tickSize": {"condition": {"test": "datum.value % 400 == 0", "value": 9}, "value": 6}, "labelPadding": 2, "titlePadding": 34}},
           "y": {"field": "absorbance", "type": "quantitative", "title": "Absorbance", "scale": {"domain": [0, 0.3], "nice": false},
             "axis": {"values": [0,0.05,0.1,0.15,0.2,0.25,0.3], "labelExpr": "round(datum.value*100) % 10 == 0 ? format(datum.value, '.1f') : ''", "tickSize": {"condition": {"test": "round(datum.value*100) % 10 == 0", "value": 9}, "value": 5}, "labelPadding": 18, "titlePadding": 20}},
           "color": {"datum": "D₂O@oHiPco (rescaled)", "type": "nominal", "scale": {"domain": ["DANS@oHiPco", "D₂O@oHiPco (rescaled)"], "range": ["#e8141c", "#1a1a1a"]},
             "legend": {"orient": "none", "legendX": 128, "legendY": 3}}
         }},
        {"data": {"name": "b_red"}, "mark": {"type": "line", "strokeWidth": 2, "clip": true},
         "encoding": {"x": {"field": "wavelength", "type": "quantitative"}, "y": {"field": "absorbance", "type": "quantitative"}, "color": {"datum": "DANS@oHiPco", "type": "nominal"}}},
        {"data": {"name": "b_box"}, "mark": {"type": "rect", "filled": false, "stroke": "#1d3fd6", "strokeWidth": 2.5},
         "encoding": {"x": {"field": "left", "type": "quantitative"}, "x2": {"field": "right"}, "y": {"field": "bottom", "type": "quantitative"}, "y2": {"field": "top"}}},
        {"data": {"name": "b_arrows"}, "mark": {"type": "rule", "color": "#333", "strokeWidth": 1.3},
         "encoding": {"x": {"field": "start", "type": "quantitative"}, "x2": {"field": "end"}, "y": {"field": "level", "type": "quantitative"}}},
        {"data": {"name": "b_arrows"}, "mark": {"type": "point", "shape": "triangle-left", "filled": true, "size": 45, "color": "#333", "opacity": 1},
         "encoding": {"x": {"field": "start", "type": "quantitative"}, "y": {"field": "level", "type": "quantitative"}}},
        {"data": {"name": "b_arrows"}, "mark": {"type": "point", "shape": "triangle-right", "filled": true, "size": 45, "color": "#333", "opacity": 1},
         "encoding": {"x": {"field": "end", "type": "quantitative"}, "y": {"field": "level", "type": "quantitative"}}},
        {"data": {"name": "b_labels"}, "mark": {"type": "text", "fontStyle": "italic", "fontSize": 27, "align": "left", "baseline": "alphabetic", "color": "#444", "font": "Open Sans"},
         "encoding": {"x": {"field": "position", "type": "quantitative"}, "y": {"field": "level", "type": "quantitative"}, "text": {"field": "main"}}},
        {"data": {"name": "b_labels"}, "mark": {"type": "text", "fontSize": 19, "align": "left", "baseline": "alphabetic", "color": "#444", "dx": 15, "dy": -9, "font": "Open Sans"},
         "encoding": {"x": {"field": "position", "type": "quantitative"}, "y": {"field": "level", "type": "quantitative"}, "text": {"field": "sup"}}},
        {"data": {"name": "b_labels"}, "mark": {"type": "text", "fontSize": 19, "align": "left", "baseline": "alphabetic", "color": "#444", "dx": 12, "dy": 12, "font": "Open Sans"},
         "encoding": {"x": {"field": "position", "type": "quantitative"}, "y": {"field": "level", "type": "quantitative"}, "text": {"field": "sub"}}}
      ]
    }
  ]
}
